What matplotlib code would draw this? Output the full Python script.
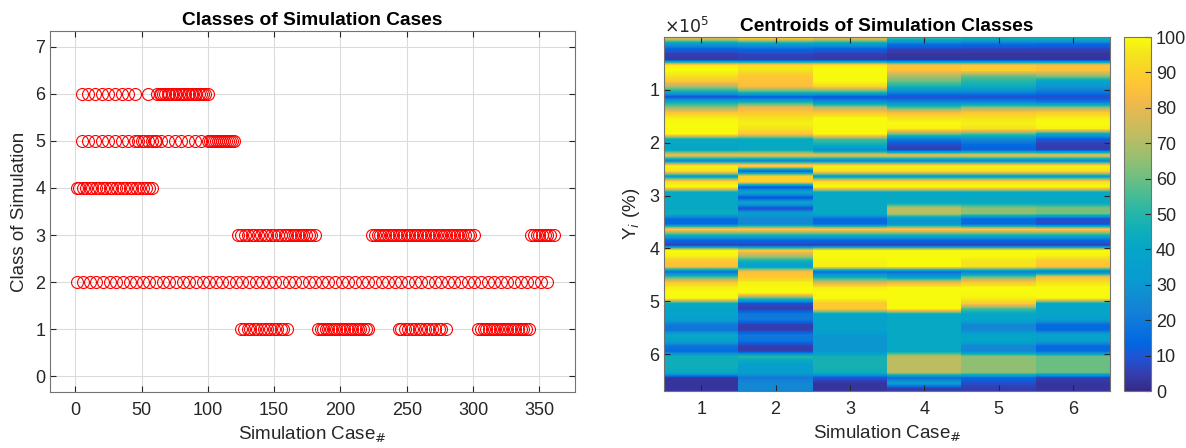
import numpy as np
import matplotlib
matplotlib.use("Agg")
import matplotlib.pyplot as plt
from matplotlib.colors import LinearSegmentedColormap

plt.rcParams['font.family'] = ['Liberation Sans', 'DejaVu Sans']

# ---------------- data: left scatter (case index per class) ----------------
class6_cases = [5, 10, 15, 20, 25, 30, 35, 40, 45, 55,
                62, 64, 65, 66, 68, 70, 71, 73, 75, 76, 78, 80, 81, 83, 85,
                86, 88, 90, 91, 93, 95, 96, 98, 100]
class5_cases = [5, 10, 15, 20, 25, 30, 35, 40, 45, 47, 50, 52, 55, 58, 60, 61,
                65, 70, 75, 80, 85, 90, 95, 100,
                102, 103, 105, 106, 108, 109, 111, 112, 114, 115, 117, 118, 120]
class4_cases = [1, 3, 6, 8, 11, 13, 16, 18, 21, 23, 26, 28, 31, 33, 36, 38,
                41, 43, 46, 48, 51, 53, 56, 58]
class3_cases = [123, 125, 128, 130, 133, 135, 138, 140, 143, 145, 148, 150,
                153, 155, 158, 160, 162, 164, 166, 168, 170, 172, 174, 176,
                178, 181,
                224, 226, 228, 230, 232, 234, 236, 238, 240, 242, 244, 246,
                248, 250, 252, 254, 256, 258, 260, 262, 264, 266, 268, 270,
                272, 274, 276, 278, 280, 282, 284, 286, 288, 290, 292, 294,
                296, 298, 301,
                344, 346, 348, 350, 352, 354, 356, 358, 361]
class2_cases = [1, 6, 11, 16, 21, 26, 31, 36, 41, 46, 51, 56, 61, 66, 71, 76,
                81, 86, 91, 96, 101, 106, 111, 116, 121, 126, 131, 136, 141,
                146, 151, 156, 161, 166, 171, 176, 181, 186, 191, 196, 201,
                206, 211, 216, 221, 226, 231, 236, 241, 246, 251, 256, 261,
                266, 271, 276, 281, 286, 291, 296, 301, 306, 311, 316, 321,
                326, 331, 336, 341, 346, 351, 356]
class1_cases = [125, 127, 130, 132, 135, 137, 140, 142, 145, 147, 150, 152,
                155, 157, 160,
                183, 185, 187, 189, 191, 193, 195, 197, 199, 201, 203, 205,
                207, 209, 211, 213, 215, 217, 219, 221,
                244, 246, 249, 251, 254, 256, 259, 261, 264, 266, 269, 271,
                274, 276, 280,
                304, 306, 308, 310, 312, 314, 316, 318, 320, 322, 324, 326,
                328, 330, 332, 334, 336, 338, 340, 342]
class_ids = [6, 5, 4, 3, 2, 1]
class_cases = [class6_cases, class5_cases, class4_cases, class3_cases,
               class2_cases, class1_cases]

x_ticks_left = [0, 50, 100, 150, 200, 250, 300, 350]
y_ticks_left = [0, 1, 2, 3, 4, 5, 6, 7]

# ---------------- data: centroid heatmap (rows of 1e4, 6 classes) ----------
row_step = 10000
centroid1 = [78, 32, 12, 5, 4, 98, 100, 95, 88, 70, 45, 8, 45, 65, 88, 98,
             100, 100, 100, 42, 42, 40, 85, 25, 98, 95, 35, 95, 100, 42, 42,
             42, 42, 45, 15, 15, 90, 50, 15, 5, 100, 98, 87, 85, 15, 55, 88,
             98, 100, 100, 42, 40, 40, 35, 20, 18, 42, 38, 18, 15, 45, 45, 45,
             43, 3, 3, 3]
centroid2 = [88, 35, 14, 6, 5, 95, 95, 88, 86, 85, 55, 10, 48, 80, 88, 95,
             98, 95, 87, 42, 42, 42, 85, 25, 98, 10, 90, 92, 8, 40, 8, 40, 8,
             35, 25, 25, 90, 50, 15, 5, 88, 70, 45, 35, 85, 88, 98, 100, 100,
             55, 8, 5, 20, 20, 5, 5, 20, 18, 5, 5, 50, 40, 35, 35, 20, 25, 25]
centroid3 = [80, 35, 12, 5, 4, 98, 100, 100, 100, 92, 55, 8, 30, 70, 88, 100,
             100, 100, 100, 55, 45, 25, 85, 25, 98, 95, 35, 95, 100, 42, 42,
             42, 42, 42, 15, 15, 90, 50, 15, 5, 100, 100, 98, 98, 15, 45, 75,
             98, 100, 100, 88, 88, 38, 38, 38, 38, 30, 30, 30, 30, 47, 47, 47,
             45, 10, 3, 3]
centroid4 = [50, 18, 6, 3, 3, 86, 86, 70, 60, 48, 25, 8, 25, 55, 85, 95, 100,
             98, 60, 20, 8, 5, 85, 25, 98, 95, 35, 95, 100, 42, 42, 42, 72,
             72, 30, 30, 90, 50, 15, 5, 100, 100, 100, 100, 15, 35, 80, 100,
             100, 100, 100, 100, 42, 42, 42, 42, 42, 42, 42, 42, 72, 72, 72,
             72, 15, 35, 5]
centroid5 = [45, 16, 6, 3, 3, 88, 90, 60, 50, 45, 25, 8, 25, 65, 88, 95, 98,
             95, 55, 25, 15, 12, 85, 25, 98, 95, 35, 95, 100, 42, 42, 42, 65,
             65, 15, 15, 90, 50, 15, 5, 100, 100, 95, 95, 20, 60, 88, 100,
             100, 98, 88, 55, 40, 40, 25, 25, 40, 40, 25, 25, 65, 65, 65, 65,
             15, 8, 5]
centroid6 = [45, 15, 6, 3, 3, 86, 86, 65, 40, 30, 20, 8, 20, 65, 90, 98, 100,
             98, 40, 10, 5, 5, 85, 25, 98, 95, 35, 95, 100, 42, 42, 42, 62,
             62, 8, 8, 90, 50, 15, 5, 100, 98, 88, 86, 20, 85, 95, 100, 100,
             100, 40, 40, 40, 35, 15, 15, 40, 35, 15, 15, 60, 60, 60, 60, 5,
             3, 3]
centroid_cols = [centroid1, centroid2, centroid3, centroid4, centroid5, centroid6]
class_labels = ['1', '2', '3', '4', '5', '6']
y_tick_vals = [100000, 200000, 300000, 400000, 500000, 600000]
y_tick_labels = ['1', '2', '3', '4', '5', '6']
cbar_ticks = [0, 10, 20, 30, 40, 50, 60, 70, 80, 90, 100]

# ---------------- parula colormap ----------------
parula_pts = [
    [0.2081, 0.1663, 0.5292], [0.2081, 0.2386, 0.6771], [0.1253, 0.3242, 0.8303],
    [0.0059, 0.4086, 0.8828], [0.0498, 0.4586, 0.8641], [0.0779, 0.5040, 0.8384],
    [0.0641, 0.5570, 0.8240], [0.0265, 0.6137, 0.8135], [0.0239, 0.6287, 0.8038],
    [0.0228, 0.6535, 0.7768], [0.0590, 0.6838, 0.7254], [0.1453, 0.7098, 0.6646],
    [0.2586, 0.7317, 0.5954], [0.3953, 0.7459, 0.5244], [0.5300, 0.7491, 0.4661],
    [0.6473, 0.7456, 0.4188], [0.7525, 0.7384, 0.3768], [0.8507, 0.7299, 0.3360],
    [0.9450, 0.7261, 0.2886], [0.9990, 0.7653, 0.2164], [0.9789, 0.8271, 0.1633],
    [0.9589, 0.8949, 0.1132], [0.9763, 0.9831, 0.0538]]
parula = LinearSegmentedColormap.from_list('parula', parula_pts, N=256)

# ---------------- figure ----------------
fig = plt.figure(figsize=(11.86, 4.48), dpi=100)
axc = (0.15, 0.15, 0.15)
grid_c = (0.86, 0.86, 0.86)
spine_c = (0.45, 0.45, 0.45)

# Left axes
ax1 = fig.add_axes([0.0422, 0.125, 0.4427, 0.8058])
for cid, cases in zip(class_ids, class_cases):
    ax1.plot(cases, [cid] * len(cases), linestyle='none', marker='o',
             markersize=8.6, markerfacecolor='none', markeredgecolor='red',
             markeredgewidth=0.8)
ax1.set_xlim(-19, 377)
ax1.set_ylim(-0.34, 7.34)
ax1.set_xticks(x_ticks_left)
ax1.set_yticks(y_ticks_left)
ax1.grid(True, color=grid_c, linewidth=0.8)
ax1.set_axisbelow(True)
ax1.tick_params(direction='in', top=True, right=True, labelsize=13,
                colors=axc, length=4)
ax1.tick_params(axis='x', pad=7)
for s in ax1.spines.values():
    s.set_color(spine_c)
    s.set_linewidth(0.8)
ax1.set_title('Classes of Simulation Cases', fontsize=13.8, fontweight='bold',
              pad=4)
ax1.set_xlabel('Simulation Case$_{\\#}$', fontsize=13.5, color=axc, labelpad=4)
ax1.set_ylabel('Class of Simulation', fontsize=13.5, color=axc, labelpad=5)

# Right heatmap: one smooth strip per class column
ax2 = fig.add_axes([0.5599, 0.1272, 0.3761, 0.7902])
n_rows = len(centroid1)
im = None
for j, col in enumerate(centroid_cols):
    arr = np.array(col, dtype=float).reshape(-1, 1)
    im = ax2.imshow(arr, aspect='auto', cmap=parula, vmin=0, vmax=100,
                    interpolation='bilinear', interpolation_stage='data',
                    extent=(j + 0.5, j + 1.5, n_rows * row_step, 0))
ax2.set_xlim(0.5, 6.5)
ax2.set_ylim(n_rows * row_step, 0)
ax2.set_xticks(range(1, 7))
ax2.set_xticklabels(class_labels)
ax2.set_yticks(y_tick_vals)
ax2.set_yticklabels(y_tick_labels)
ax2.tick_params(direction='in', top=True, right=True, labelsize=13,
                colors=axc, length=4)
ax2.tick_params(axis='x', pad=7)
for s in ax2.spines.values():
    s.set_color(spine_c)
    s.set_linewidth(0.8)
ax2.set_title('Centroids of Simulation Classes', fontsize=13.8,
              fontweight='bold', pad=4)
ax2.set_xlabel('Simulation Case$_{\\#}$', fontsize=13.5, color=axc, labelpad=4)
ax2.set_ylabel('Y$_{i}$ (%)', fontsize=13.5, color=axc, labelpad=5)
ax2.text(0.0, 1.004, '$\\times10^{5}$', transform=ax2.transAxes,
         fontsize=12.5, color=axc, ha='left', va='bottom')

# Colorbar
cax = fig.add_axes([0.9477, 0.1272, 0.0228, 0.7902])
cb = fig.colorbar(im, cax=cax, ticks=cbar_ticks)
cb.ax.tick_params(direction='in', labelsize=13, colors=axc, length=4)
cb.outline.set_edgecolor(spine_c)
cb.outline.set_linewidth(0.8)

fig.savefig('out.png', dpi=100)
